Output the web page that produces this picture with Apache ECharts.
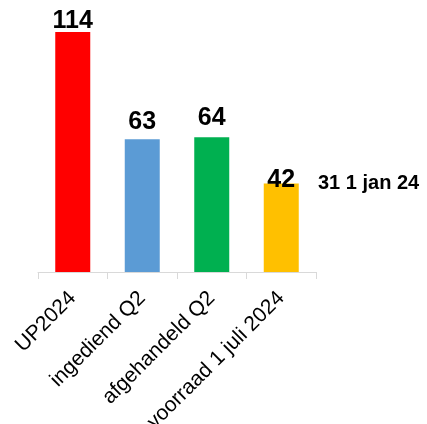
<!DOCTYPE html>
<html>
<head>
<meta charset="utf-8">
<script src="https://cdn.jsdelivr.net/npm/echarts@6/dist/echarts.min.js"></script>
<style>
  html, body { margin: 0; padding: 0; background: #fff; }
  #myChart { width: 427px; height: 424px; }
</style>
</head>
<body>
<div id="myChart"></div>
<script>
// categories and values
const categories = ['UP2024', 'ingediend Q2', 'afgehandeld Q2', 'voorraad 1 juli 2024'];
const values = [114, 63, 64, 42];
const barColors = ['#FF0000', '#5B9BD5', '#00B050', '#FFC000'];
// label distance above each bar (the source places them by hand)
const labelDistance = [-2, 5, 7, -9];
const note = '31 1 jan 24';

let myChart = echarts.init(document.getElementById('myChart'));

let option = {
  animation: false,
  textStyle: { fontFamily: 'Liberation Sans, Arial, sans-serif' },
  grid: { left: 38, right: 111, top: 32, bottom: 152, outerBoundsMode: 'none', containLabel: false },
  xAxis: {
    type: 'category',
    data: categories,
    axisLine: { lineStyle: { color: '#d9d9d9', width: 1 } },
    axisTick: { show: true, length: 7, lineStyle: { color: '#d9d9d9' } },
    axisLabel: {
      rotate: 45,
      margin: 23,
      fontSize: 21,
      color: '#000',
      interval: 0
    }
  },
  yAxis: {
    type: 'value',
    min: 0,
    max: 114,
    show: false
  },
  graphic: [{
    type: 'text',
    left: 318,
    top: 173,
    style: {
      text: note,
      font: 'bold 20px Liberation Sans, Arial, sans-serif',
      fill: '#000'
    }
  }],
  series: [{
    type: 'bar',
    barWidth: 35,
    data: values.map((v, i) => ({
      value: v,
      itemStyle: { color: barColors[i] },
      label: { distance: labelDistance[i] }
    })),
    label: {
      show: true,
      position: 'top',
      fontSize: 25,
      fontWeight: 'bold',
      color: '#000'
    }
  }]
};

myChart.setOption(option);
</script>
</body>
</html>
